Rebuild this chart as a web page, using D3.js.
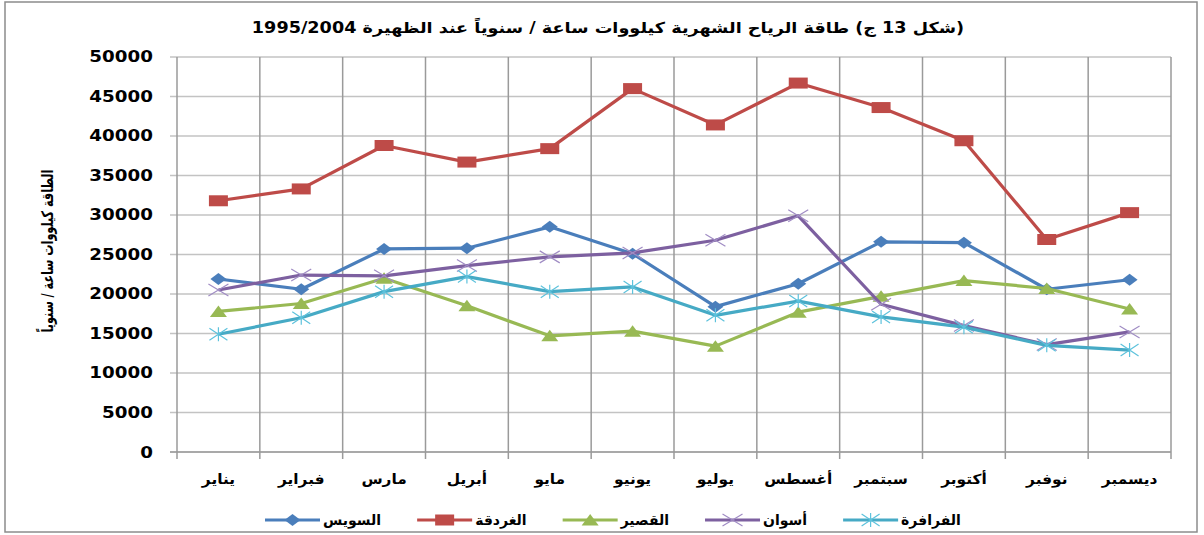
<!DOCTYPE html>
<html>
<head>
<meta charset="utf-8">
<script src="https://cdn.jsdelivr.net/npm/d3@7"></script>
<style>
body { margin: 0; background: #fff; }
text { font-family: "DejaVu Sans", sans-serif; font-weight: bold; fill: #000; }
</style>
</head>
<body>
<svg width="1204" height="535"></svg>
<script>
// months as they run left to right on the axis
var months = ["يناير", "فبراير", "مارس", "أبريل", "مايو", "يونيو", "يوليو", "أغسطس", "سبتمبر", "أكتوبر", "نوفبر", "ديسمبر"];
var seriesNames = ["السويس", "الغردقة", "القصير", "أسوان", "الفرافرة"];
var suez     = [21900, 20600, 25700, 25800, 28500, 25100, 18400, 21300, 26600, 26500, 20600, 21800];
var hurghada = [31800, 33300, 38800, 36700, 38400, 46000, 41400, 46700, 43600, 39400, 26900, 30300];
var quseir   = [17800, 18800, 22000, 18500, 14700, 15300, 13400, 17700, 19700, 21700, 20700, 18100];
var aswan    = [20500, 22400, 22300, 23600, 24700, 25200, 26800, 29900, 18700, 16000, 13600, 15200];
var farafra  = [14900, 17000, 20300, 22200, 20300, 20900, 17300, 19100, 17100, 15800, 13500, 12900];
var yTicks = [0, 5000, 10000, 15000, 20000, 25000, 30000, 35000, 40000, 45000, 50000];
var title = "(شكل 13 ج) طاقة الرياح الشهرية كيلووات ساعة / سنوياً عند الظهيرة 1995/2004";
var yTitle = "الطاقة كيلووات ساعة / سنوياً";

var seriesValues = [suez, hurghada, quseir, aswan, farafra];
var colors = ["#4a7ebb", "#be4b48", "#98b954", "#7d60a0", "#46aac5"];
var markColors = ["#4a7ebb", "#be4b48", "#98b954", "#a08cc4", "#5dc2dc"];
var markers = ["diamond", "square", "triangle", "x", "star"];

var svg = d3.select("svg");
var plotLeft = 177, plotRight = 1171, plotTop = 57, plotBottom = 452;

var x = d3.scaleBand().domain(months).range([plotLeft, plotRight]);
var y = d3.scaleLinear().domain([0, 50000]).range([plotBottom, plotTop]);

// stretch text sideways about its anchor point
function stretch(sel, s) {
  sel.each(function() {
    var t = d3.select(this);
    var cx = +t.attr("x"), cy = +t.attr("y");
    t.attr("transform", "translate(" + cx + "," + cy + ") scale(" + s + ",1) translate(" + (-cx) + "," + (-cy) + ")");
  });
}
function fitWidth(sel, w) {
  sel.each(function() {
    stretch(d3.select(this), w / this.getComputedTextLength());
  });
}

// outer frame
svg.append("rect")
  .attr("x", 5).attr("y", 2).attr("width", 1192).attr("height", 530)
  .attr("fill", "none").attr("stroke", "#8c8c8c").attr("stroke-width", 1.5);

// horizontal grid
svg.append("g").selectAll("line")
  .data(yTicks)
  .enter()
  .append("line")
  .attr("x1", plotLeft - 7).attr("x2", plotRight)
  .attr("y1", function(d) { return y(d); })
  .attr("y2", function(d) { return y(d); })
  .attr("stroke", function(d) { return d == 0 ? "#8c8c8c" : "#c3c3c3"; })
  .attr("stroke-width", 1.5);

// vertical grid on category edges
var edges = months.map(function(m) { return x(m); }).concat([plotRight]);
svg.append("g").selectAll("line")
  .data(edges)
  .enter()
  .append("line")
  .attr("x1", function(d) { return d; })
  .attr("x2", function(d) { return d; })
  .attr("y1", plotTop).attr("y2", plotBottom + 7)
  .attr("stroke", "#9a9a9a")
  .attr("stroke-width", 1.5);

// y tick labels
svg.append("g").selectAll("text")
  .data(yTicks)
  .enter()
  .append("text")
  .text(function(d) { return d; })
  .attr("x", 153)
  .attr("y", function(d) { return y(d) + 5.5; })
  .attr("text-anchor", "end")
  .attr("font-size", "15px")
  .call(stretch, 1.22);

// x labels
svg.append("g").selectAll("text")
  .data(months)
  .enter()
  .append("text")
  .text(function(d) { return d; })
  .attr("x", function(d) { return x(d) + x.bandwidth() / 2; })
  .attr("y", 484)
  .attr("text-anchor", "middle")
  .attr("direction", "rtl")
  .attr("font-size", "14px")
  .call(stretch, 1.1);

// title
svg.append("text")
  .text(title)
  .attr("x", 608).attr("y", 33)
  .attr("text-anchor", "middle")
  .attr("direction", "rtl")
  .attr("font-size", "15px")
  .call(fitWidth, 713);

// y axis title, squeezed to the reference length
var yt = svg.append("text")
  .text(yTitle)
  .attr("x", 0).attr("y", 0)
  .attr("text-anchor", "middle")
  .attr("font-size", "16px");
var ytLen = yt.node().getComputedTextLength();
yt.attr("transform", "translate(53,251) rotate(-90) scale(" + (163 / ytLen) + ",1)");

function markerPath(type) {
  if (type == "diamond") return "M-8,0L0,-6L8,0L0,6Z";
  if (type == "square") return "M-9.5,-5.5H9.5V5.5H-9.5Z";
  if (type == "triangle") return "M-8.5,5.5L0,-6L8.5,5.5Z";
  if (type == "x") return "M-10,-6L10,6M-10,6L10,-6";
  return "M-9,-6L9,6M-9,6L9,-6M0,-7V7";
}
function drawMarker(g, type, i) {
  var p = g.append("path").attr("d", markerPath(type));
  if (type == "x" || type == "star") {
    p.attr("fill", "none").attr("stroke", markColors[i]).attr("stroke-width", 1.2);
  } else {
    p.attr("fill", colors[i]).attr("stroke", "none");
  }
}

var line = d3.line()
  .x(function(d, i) { return x(months[i]) + x.bandwidth() / 2; })
  .y(function(d) { return y(d); });

seriesValues.forEach(function(vals, i) {
  var g = svg.append("g");
  g.append("path")
    .datum(vals)
    .attr("d", line)
    .attr("fill", "none")
    .attr("stroke", colors[i])
    .attr("stroke-width", 3.2)
    .attr("stroke-linejoin", "round");
  g.selectAll("g.mk")
    .data(vals)
    .enter()
    .append("g")
    .attr("class", "mk")
    .attr("transform", function(d, j) {
      return "translate(" + (x(months[j]) + x.bandwidth() / 2) + "," + y(d) + ")";
    })
    .each(function() { drawMarker(d3.select(this), markers[i], i); });
});

// legend
var lx = 265, ly = 520;
seriesNames.forEach(function(name, i) {
  var g = svg.append("g");
  g.append("line")
    .attr("x1", lx).attr("x2", lx + 55)
    .attr("y1", ly).attr("y2", ly)
    .attr("stroke", colors[i]).attr("stroke-width", 3.2);
  var mg = g.append("g").attr("transform", "translate(" + (lx + 27.5) + "," + ly + ")");
  drawMarker(mg, markers[i], i);
  var t = g.append("text")
    .text(name)
    .attr("x", lx + 58)
    .attr("y", ly + 5)
    .attr("font-size", "14px");
  var w = t.node().getComputedTextLength();
  lx = lx + 58 + w + 36;
});
</script>
</body>
</html>
